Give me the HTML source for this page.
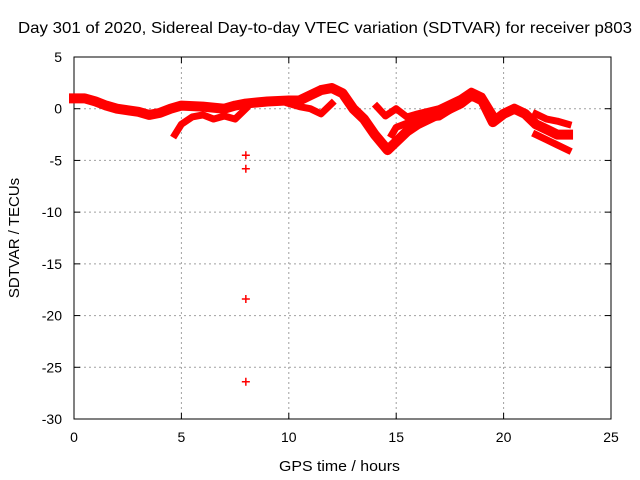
<!DOCTYPE html>
<html><head><meta charset="utf-8"><style>
body{margin:0;background:#fff;}
svg{display:block;font-family:"Liberation Sans",sans-serif;}
</style></head><body>
<svg id="chart" width="640" height="480" viewBox="0 0 640 480">
<rect width="640" height="480" fill="#fff"/>
<text x="18" y="33" font-size="16" textLength="614" lengthAdjust="spacingAndGlyphs">Day 301 of 2020, Sidereal Day-to-day VTEC variation (SDTVAR) for receiver p803</text>
<g id="grid"></g>
<g id="axes"></g>
<g id="series"></g>
<text x="279" y="471" font-size="15" textLength="121" lengthAdjust="spacingAndGlyphs">GPS time / hours</text>
<text x="19" y="238" font-size="15" text-anchor="middle" transform="rotate(-90 19 238)">SDTVAR / TECUs</text>
</svg>
<script>
const xTicks=[0,5,10,15,20,25];
const yTicks=[5,0,-5,-10,-15,-20,-25,-30];
const mainBand=[[0,1],[0.5,1],[1,0.7],[1.5,0.3],[2,0],[3,-0.3],[3.5,-0.6],[4,-0.4],[4.5,0],[5,0.3],[6,0.2],[7,0],[7.5,0.3],[8,0.5],[8.5,0.6],[9,0.7],[10,0.8],[10.5,0.8],[11,1.3],[11.5,1.8],[12,2],[12.5,1.5],[13,0],[13.5,-1],[14,-2.5],[14.6,-4],[15,-3.2],[15.5,-2.2],[16,-1.5],[17,-0.5],[18,0.5],[18.5,1.3],[19,0.8],[19.5,-1.3],[20,-0.5],[20.5,0],[21,-0.5],[21.5,-1.5],[22,-2],[22.5,-2.5],[23,-2.5]];
const branchA=[[4.7,-2.5],[5,-1.5],[5.5,-0.8],[6,-0.6],[6.5,-1],[7,-0.7],[7.5,-1],[8,0]];
const branchB=[[10,0.5],[10.5,0.2],[11,0],[11.5,-0.5],[12,0.5]];
const branchC=[[14.1,0.2],[14.5,-0.7],[15,0],[15.5,-0.8],[16,-0.5],[17,0],[18,1],[18.5,1.7],[19,1.2],[19.5,-0.5]];
const branchD=[[14.8,-2.5],[15,-1.8],[16,-1],[17,-0.8],[18,0.5]];
const branchE=[[21.5,-0.5],[22,-1],[22.5,-1.2],[23,-1.5]];
const branchF=[[21.5,-2.5],[22,-3],[22.5,-3.5],[23,-4]];
const outliers=[[8,-4.5],[8,-5.8],[8,-18.4],[8,-26.4]];
const ns="http://www.w3.org/2000/svg";
const X0=74,X1=611,Y0=57,Y1=419;
function sx(v){return X0+(v-0)/(25-0)*(X1-X0);}
function sy(v){return Y0+(5-v)/(35)*(Y1-Y0);}
function mk(tag,attrs,parent){const e=document.createElementNS(ns,tag);for(const k in attrs)e.setAttribute(k,attrs[k]);parent.appendChild(e);return e;}
const grid=document.getElementById('grid'),axes=document.getElementById('axes'),ser=document.getElementById('series');
xTicks.forEach(t=>{
 if(t>0&&t<25){const l=mk('line',{x1:sx(t),x2:sx(t),y1:Y0,y2:Y1,stroke:'#a0a0a0','stroke-dasharray':'2,3'},grid);
 
 }
 const tx=mk('text',{x:sx(t),y:Y1+23,'font-size':14,'text-anchor':'middle'},axes);tx.textContent=t;
 
 
 mk('line',{x1:sx(t),x2:sx(t),y1:Y1,y2:Y1-6,stroke:'#000'},axes);
 mk('line',{x1:sx(t),x2:sx(t),y1:Y0,y2:Y0+6,stroke:'#000'},axes);
});
yTicks.forEach(t=>{
 if(t<5&&t>-30){const l=mk('line',{x1:X0,x2:X1,y1:sy(t),y2:sy(t),stroke:'#a0a0a0','stroke-dasharray':'2,3'},grid);
 
 }
 const tx=mk('text',{x:X0-12,y:sy(t)+5,'font-size':14,'text-anchor':'end'},axes);tx.textContent=t;
 
 
 mk('line',{x1:X0,x2:X0+6,y1:sy(t),y2:sy(t),stroke:'#000'},axes);
 mk('line',{x1:X1,x2:X1-6,y1:sy(t),y2:sy(t),stroke:'#000'},axes);
});
const fr=mk('rect',{x:X0,y:Y0,width:X1-X0,height:Y1-Y0,fill:'none',stroke:'#000'},axes);


[mainBand,branchA,branchB,branchC,branchD,branchE,branchF].forEach((s,i)=>{
 const p=mk('polyline',{points:s.map(d=>sx(d[0])+','+sy(d[1])).join(' '),fill:'none',stroke:'#f00','stroke-width':i==0?10:7,'stroke-linejoin':'round','stroke-linecap':'square'},ser);
 
 
});
outliers.forEach(d=>{
 const g=mk('path',{d:`M${sx(d[0])-4},${sy(d[1])}h8M${sx(d[0])},${sy(d[1])-4}v8`,stroke:'#f00','stroke-width':1.5},ser);
 
 
});
</script>
</body></html>
